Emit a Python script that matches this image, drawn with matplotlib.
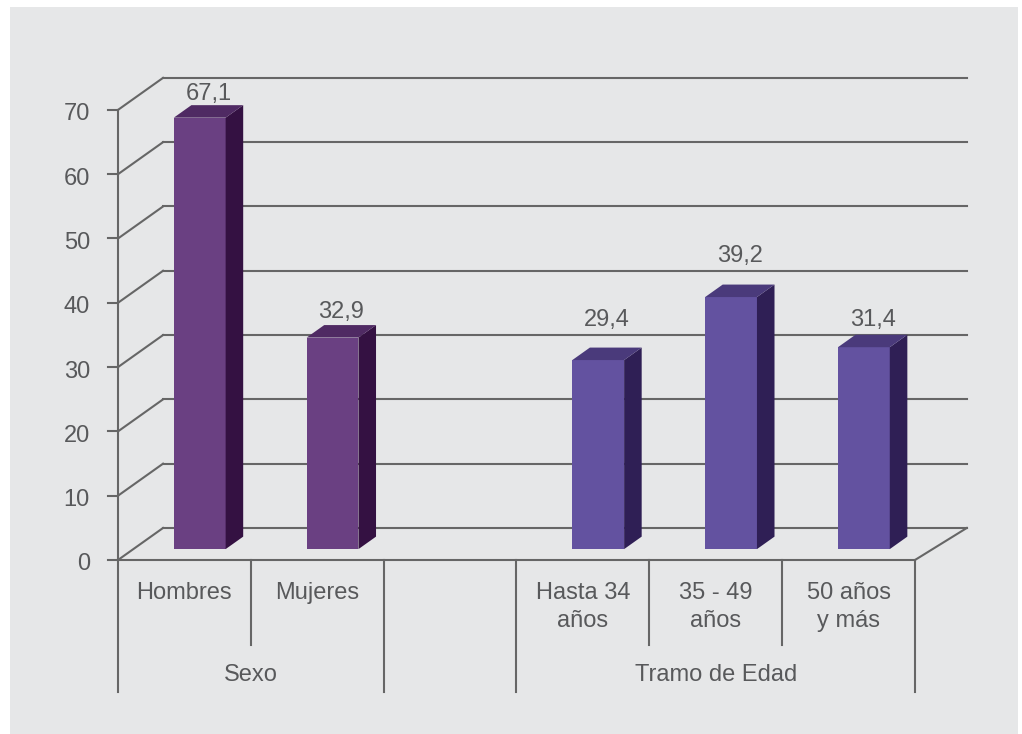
import matplotlib.pyplot as plt
from matplotlib.patches import Polygon, Rectangle

# datos
categorias = ['Hombres', 'Mujeres', 'Hasta 34\naños', '35 - 49\naños', '50 años\ny más']
porcentajes = [67.1, 32.9, 29.4, 39.2, 31.4]
grupos = ['Sexo', 'Tramo de Edad']
ticks_y = [0, 10, 20, 30, 40, 50, 60, 70]

# posicion de cada barra (hueco vacio entre los dos grupos)
posiciones = [0, 1, 3, 4, 5]
grupo_de_barra = [0, 0, 1, 1, 1]
# separacion de la etiqueta por encima de la barra
offset_etiqueta = [4.4, 4.7, 7.0, 7.2, 5.0]

# colores: frente, lado, techo
colores = [('#6A4082', '#341142', '#4F2A63'),
           ('#6352A0', '#2F1F55', '#4A3A7B')]
gris_linea = '#666666'
gris_texto = '#58595B'
fondo = '#E6E7E8'
fs = 17

plt.rcParams['font.family'] = ['Liberation Sans', 'DejaVu Sans']

fig = plt.figure(figsize=(10.22, 7.34), dpi=100)
fig.patch.set_facecolor('white')
fig.patches.append(Rectangle((10 / 1022, 0), 1008 / 1022, 727 / 734,
                             transform=fig.transFigure, facecolor=fondo,
                             edgecolor='none', zorder=-10))

ax = fig.add_axes([0, 0, 1, 1])
ax.set_facecolor('none')
ax.axis('off')
# 1 unidad x = un hueco de categoria, 1 unidad y = 1 punto porcentual
ax.set_xlim(-0.8884, 6.8057)
ax.set_ylim(-27.06, 87.09)

# profundidad del suelo/pared
dx, dy = 0.339, 4.98
dx_der = 0.39
f0, f1 = 0.34, 0.73
ancho = 0.39
n_huecos = 6
lw = 1.5

# pared del fondo: rejilla
for v in ticks_y:
    ax.plot([-0.075, 0], [v, v], color=gris_linea, lw=lw, zorder=1)
    ax.plot([0, dx], [v, v + dy], color=gris_linea, lw=lw, zorder=1)
    ax.plot([dx, n_huecos + dx_der], [v + dy, v + dy], color=gris_linea, lw=lw, zorder=1)

# suelo: borde delantero y lateral derecho
ax.plot([0, n_huecos], [0, 0], color=gris_linea, lw=lw, zorder=1)
ax.plot([n_huecos, n_huecos + dx_der], [0, dy], color=gris_linea, lw=lw, zorder=1)

# eje vertical delantero
ax.plot([0, 0], [ticks_y[-1], -20.5], color=gris_linea, lw=lw, zorder=1)

# separadores de categorias
largos = [2, 3, 6]
cortos = [1, 4, 5]
for x in largos:
    ax.plot([x, x], [0, -20.5], color=gris_linea, lw=lw, zorder=1)
for x in cortos:
    ax.plot([x, x], [0, -13.2], color=gris_linea, lw=lw, zorder=1)

# barras en pseudo 3D
for cat, val, pos, g, off in zip(categorias, porcentajes, posiciones,
                                 grupo_de_barra, offset_etiqueta):
    frente, lado, techo = colores[g]
    x0 = pos + 0.5 - ancho / 2 + f0 * dx
    y0 = f0 * dy
    x1 = x0 + ancho
    ex = (f1 - f0) * dx
    ey = (f1 - f0) * dy
    ax.add_patch(Polygon([(x0, y0), (x1, y0), (x1, y0 + val), (x0, y0 + val)],
                         closed=True, facecolor=frente, edgecolor='none', zorder=3))
    ax.add_patch(Polygon([(x1, y0), (x1 + ex, y0 + ey), (x1 + ex, y0 + ey + val),
                          (x1, y0 + val)],
                         closed=True, facecolor=lado, edgecolor='none', zorder=3))
    ax.add_patch(Polygon([(x0, y0 + val), (x1, y0 + val), (x1 + ex, y0 + ey + val),
                          (x0 + ex, y0 + ey + val)],
                         closed=True, facecolor=techo, edgecolor='none', zorder=3))
    ax.text((x0 + x1 + ex) / 2, val + off, f'{val:.1f}'.replace('.', ','),
            ha='center', va='baseline', fontsize=fs, color=gris_texto, zorder=4)

    # etiqueta de categoria
    ax.text(pos + 0.5, -3.42, cat, ha='center', va='top', fontsize=fs,
            color=gris_texto, linespacing=1.33)

# etiquetas del eje y
for v in ticks_y:
    ax.text(-0.211, v - 1.63, str(v), ha='right', va='baseline', fontsize=fs,
            color=gris_texto)

# etiquetas de grupo
ax.text(1.0, -18.8, grupos[0], ha='center', va='baseline', fontsize=fs, color=gris_texto)
ax.text(4.5, -18.8, grupos[1], ha='center', va='baseline', fontsize=fs, color=gris_texto)

fig.savefig('out.png', dpi=100, facecolor=fig.get_facecolor())
